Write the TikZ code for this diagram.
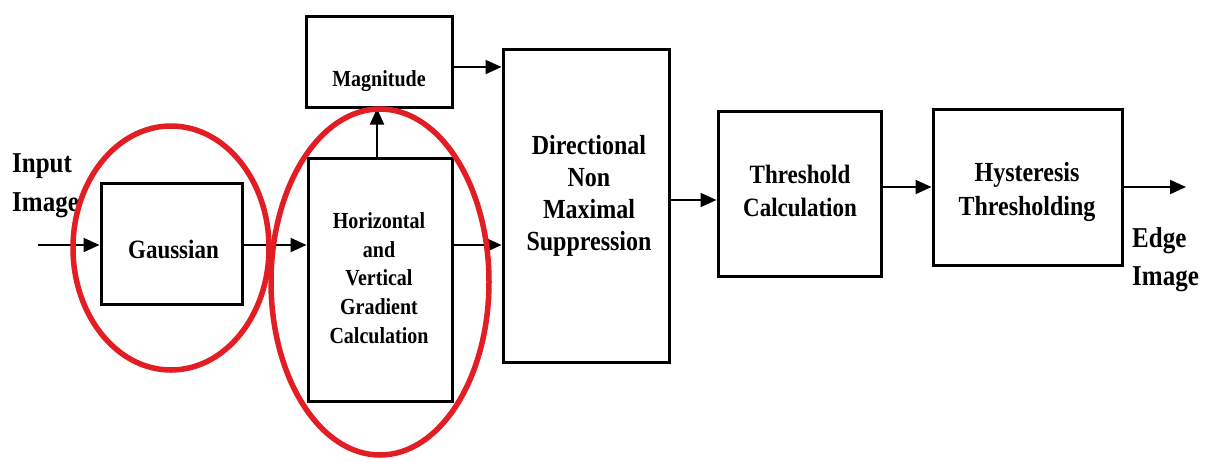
\documentclass[tikz,border=0pt]{standalone}
\usepackage{fontspec}
\setmainfont{Liberation Serif}
\usetikzlibrary{arrows.meta}
\definecolor{ringred}{RGB}{226,29,36}
\begin{document}
\begin{tikzpicture}[x=1pt,y=-1pt,
  blockbox/.style={draw=black, line width=3pt, inner sep=0pt},
  caption/.style={inner sep=0pt, align=center, font=\bfseries, yscale=1.15, transform shape},
  flow/.style={draw=black, line width=2pt, -{Triangle[length=16pt,width=14pt]}},
  ring/.style={draw=ringred, line width=5.5pt}]
\useasboundingbox (0,0) rectangle (1220,461);

% processing blocks
\node[blockbox, minimum width=141pt, minimum height=121pt] (gauss) at (171.5,243.5) {};
\node[blockbox, minimum width=144pt, minimum height=243pt] (grad)  at (380,279.5) {};
\node[blockbox, minimum width=146pt, minimum height=91pt]  (mag)   at (379,61.5) {};
\node[blockbox, minimum width=166pt, minimum height=313pt] (dnms)  at (586,205.5) {};
\node[blockbox, minimum width=163pt, minimum height=165pt] (thr)   at (799.5,193.5) {};
\node[blockbox, minimum width=189pt, minimum height=156pt] (hys)   at (1027.5,187) {};

% block captions
\node[caption, font=\bfseries\fontsize{23}{27}\selectfont] (gausstxt) at (173.5,249) {Gaussian};
\node[caption, font=\bfseries\fontsize{20}{25}\selectfont] (gradtxt) at (379,278)
  {Horizontal\\and\\Vertical\\Gradient\\Calculation};
\node[caption, font=\bfseries\fontsize{20}{24}\selectfont] (magtxt) at (379,81) {Magnitude};
\node[caption, font=\bfseries\fontsize{24}{28}\selectfont] (dnmstxt) at (589,196)
  {Directional\\Non\\Maximal\\Suppression};
\node[caption, font=\bfseries\fontsize{23}{29}\selectfont] (thrtxt) at (800,191)
  {Threshold\\Calculation};
\node[caption, font=\bfseries\fontsize{24}{30}\selectfont] (hystxt) at (1027,192)
  {Hysteresis\\Thresholding};

% input and output labels
\node[caption, align=left, anchor=north west, font=\bfseries\fontsize{25}{34}\selectfont] (intxt) at (12,153)
  {Input\\Image};
\node[caption, align=left, anchor=north west, font=\bfseries\fontsize{25}{33}\selectfont] (outtxt) at (1132,227)
  {Edge\\Image};

% connectors
\coordinate (src) at (38,245);
\coordinate (sink) at (1186,187);
\draw[flow] (src) -- (src -| gauss.west);
\draw[flow] ([yshift=-1.5pt]gauss.east) -- ([yshift=-1.5pt]gauss.east -| grad.west);
\draw[flow] ([xshift=-3pt]grad.north) -- ([xshift=-3pt]grad.north |- mag.south);
\draw[flow] ([yshift=-5.5pt]mag.east) -- ([yshift=-5.5pt]mag.east -| dnms.west);
\draw[flow] ([yshift=34.5pt]grad.east) -- ([yshift=34.5pt]grad.east -| dnms.west);
\draw[flow] ([yshift=5.5pt]dnms.east) -- ([yshift=5.5pt]dnms.east -| thr.west);
\draw[flow] (thr.east |- hys.west) -- (hys.west);
\draw[flow] (hys.east) -- (sink);

% highlight rings
\draw[ring] (171,248) ellipse [x radius=98, y radius=122];
\draw[ring] (380,282) ellipse [x radius=109, y radius=173];
\end{tikzpicture}
\end{document}
